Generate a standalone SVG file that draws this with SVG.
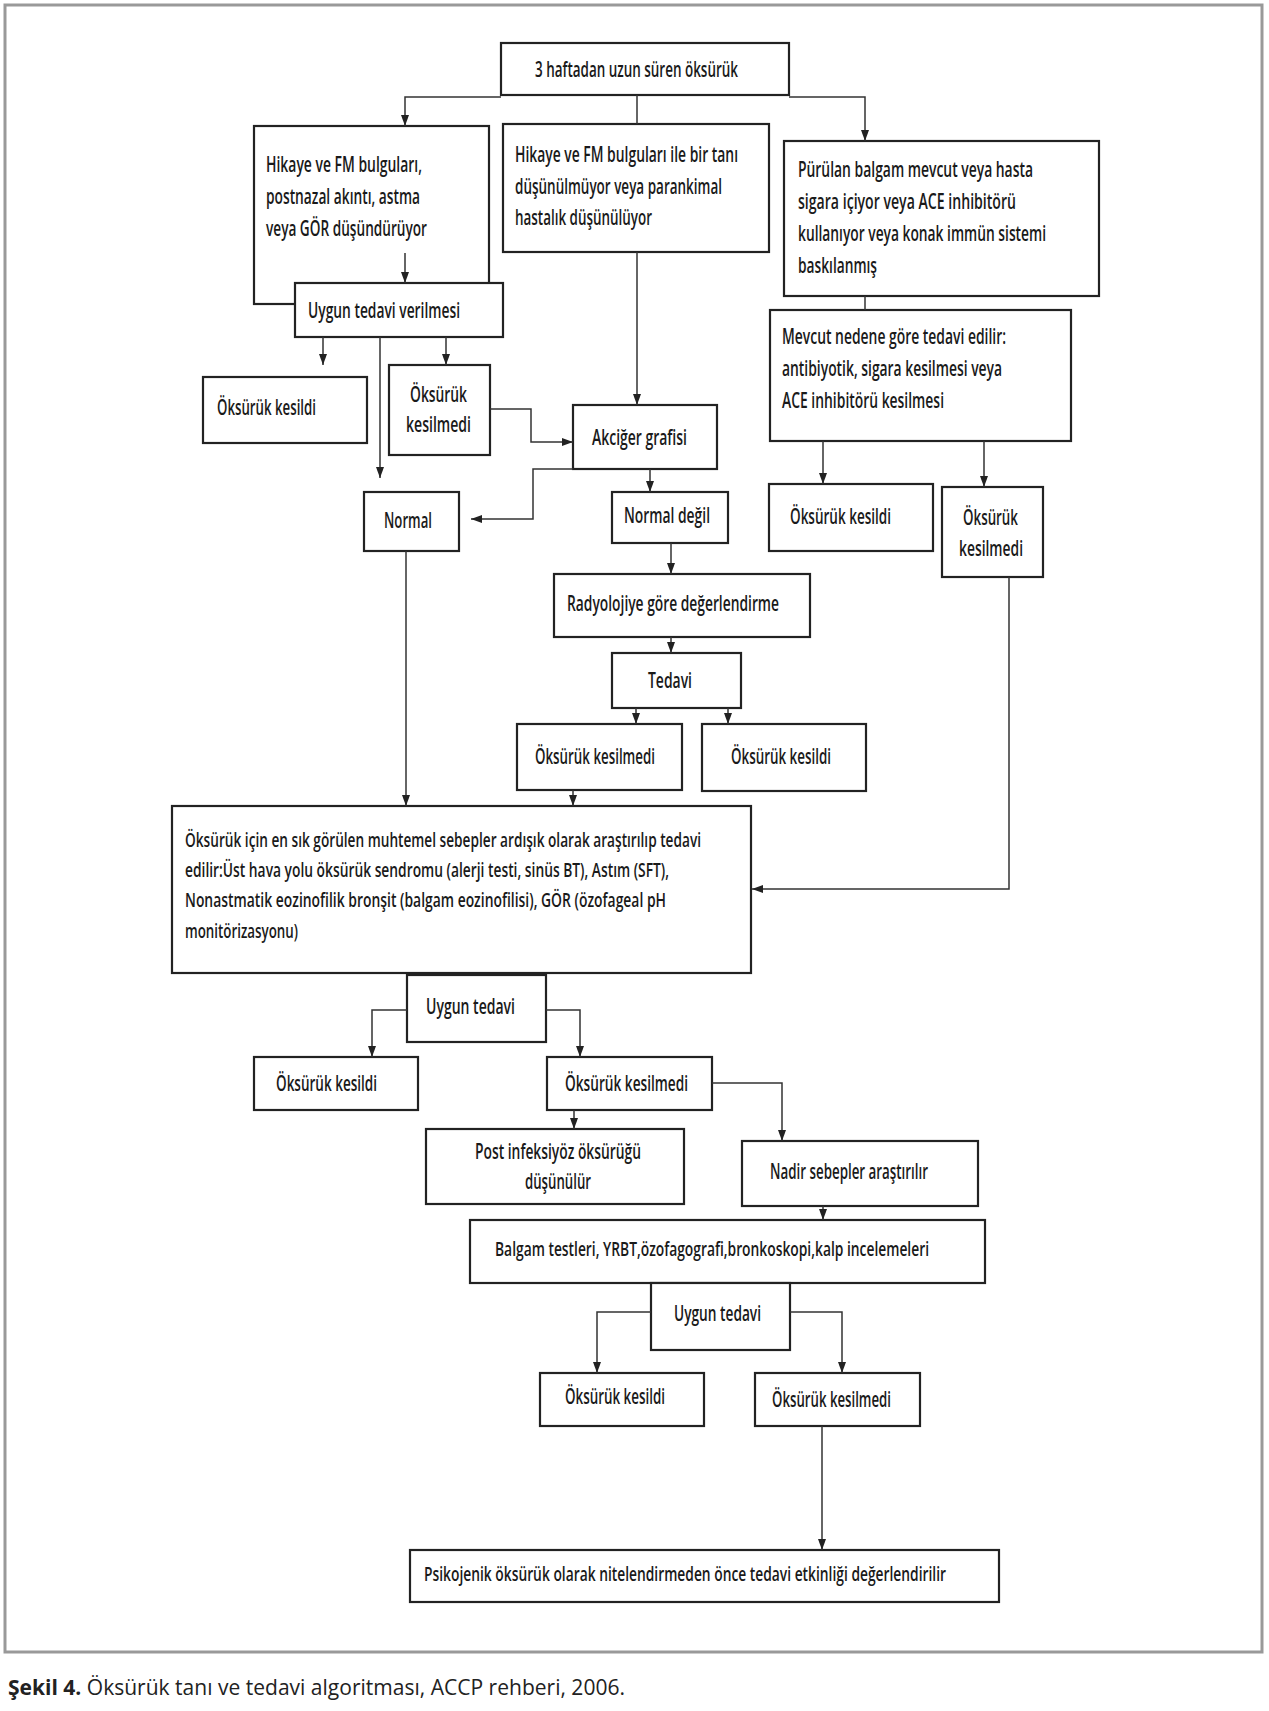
<svg xmlns="http://www.w3.org/2000/svg" width="1269" height="1711" viewBox="0 0 1269 1711">
<defs>
<style>
.box{fill:#fff;stroke:#222;stroke-width:2.2}
.t{font-family:"Open Sans","Liberation Sans",sans-serif;font-size:22px;font-weight:600;fill:#1a1a1a}
.s{font-size:20px}
.c{fill:none;stroke:#333;stroke-width:1.5}
.cap{font-family:"Open Sans","Liberation Sans",sans-serif;font-size:21px;fill:#222}
</style>
<marker id="ah" markerUnits="userSpaceOnUse" markerWidth="8" markerHeight="11" refX="4" refY="11" orient="0" viewBox="0 0 8 11">
<path d="M0,0 L8,0 L4,11 z" fill="#222"/>
</marker>
<marker id="ar" markerUnits="userSpaceOnUse" markerWidth="11" markerHeight="8" refX="11" refY="4" viewBox="0 0 11 8">
<path d="M0,0 L11,4 L0,8 z" fill="#222"/>
</marker>
<marker id="al" markerUnits="userSpaceOnUse" markerWidth="11" markerHeight="8" refX="0" refY="4" viewBox="0 0 11 8">
<path d="M11,0 L0,4 L11,8 z" fill="#222"/>
</marker>
</defs>
<rect x="0" y="0" width="1269" height="1711" fill="#fff"/>
<rect x="5" y="5" width="1257" height="1647" fill="none" stroke="#999" stroke-width="3"/>

<g id="n1"><rect class="box" x="501" y="43" width="288" height="52"/>
<text class="t" x="535" y="77" textLength="203" lengthAdjust="spacingAndGlyphs">3 haftadan uzun süren öksürük</text></g>

<g id="n2"><rect class="box" x="254" y="126" width="235" height="178"/>
<text class="t" x="266" y="172" textLength="156" lengthAdjust="spacingAndGlyphs">Hikaye ve FM bulguları,</text>
<text class="t" x="266" y="204" textLength="154" lengthAdjust="spacingAndGlyphs">postnazal akıntı, astma</text>
<text class="t" x="266" y="236" textLength="161" lengthAdjust="spacingAndGlyphs">veya GÖR düşündürüyor</text></g>

<g id="n3"><rect class="box" x="295" y="283" width="208" height="54"/>
<text class="t" x="308" y="318" textLength="152" lengthAdjust="spacingAndGlyphs">Uygun tedavi verilmesi</text></g>

<g id="n4"><rect class="box" x="203" y="377" width="164" height="66"/>
<text class="t" x="217" y="415" textLength="99" lengthAdjust="spacingAndGlyphs">Öksürük kesildi</text></g>

<g id="n5"><rect class="box" x="389" y="365" width="101" height="90"/>
<text class="t" x="410" y="402" textLength="57" lengthAdjust="spacingAndGlyphs">Öksürük</text>
<text class="t" x="406" y="432" textLength="65" lengthAdjust="spacingAndGlyphs">kesilmedi</text></g>

<g id="n6"><rect class="box" x="503" y="124" width="266" height="128"/>
<text class="t" x="515" y="162" textLength="223" lengthAdjust="spacingAndGlyphs">Hikaye ve FM bulguları ile bir tanı</text>
<text class="t" x="515" y="194" textLength="207" lengthAdjust="spacingAndGlyphs">düşünülmüyor veya parankimal</text>
<text class="t" x="515" y="225" textLength="137" lengthAdjust="spacingAndGlyphs">hastalık düşünülüyor</text></g>

<g id="n7"><rect class="box" x="784" y="141" width="315" height="155"/>
<text class="t" x="798" y="177" textLength="235" lengthAdjust="spacingAndGlyphs">Pürülan balgam mevcut veya hasta</text>
<text class="t" x="798" y="209" textLength="218" lengthAdjust="spacingAndGlyphs">sigara içiyor veya ACE inhibitörü</text>
<text class="t" x="798" y="241" textLength="248" lengthAdjust="spacingAndGlyphs">kullanıyor veya konak immün sistemi</text>
<text class="t" x="798" y="273" textLength="79" lengthAdjust="spacingAndGlyphs">baskılanmış</text></g>

<g id="n8"><rect class="box" x="770" y="310" width="301" height="131"/>
<text class="t" x="782" y="344" textLength="224" lengthAdjust="spacingAndGlyphs">Mevcut nedene göre tedavi edilir:</text>
<text class="t" x="782" y="376" textLength="220" lengthAdjust="spacingAndGlyphs">antibiyotik, sigara kesilmesi veya</text>
<text class="t" x="782" y="408" textLength="162" lengthAdjust="spacingAndGlyphs">ACE inhibitörü kesilmesi</text></g>

<g id="n9"><rect class="box" x="573" y="405" width="144" height="64"/>
<text class="t" x="592" y="445" textLength="95" lengthAdjust="spacingAndGlyphs">Akciğer grafisi</text></g>

<g id="n10"><rect class="box" x="364" y="492" width="95" height="59"/>
<text class="t" x="384" y="528" textLength="48" lengthAdjust="spacingAndGlyphs">Normal</text></g>

<g id="n11"><rect class="box" x="612" y="492" width="116" height="51"/>
<text class="t" x="624" y="523" textLength="86" lengthAdjust="spacingAndGlyphs">Normal değil</text></g>

<g id="n12"><rect class="box" x="554" y="574" width="256" height="63"/>
<text class="t" x="567" y="611" textLength="212" lengthAdjust="spacingAndGlyphs">Radyolojiye göre değerlendirme</text></g>

<g id="n13"><rect class="box" x="612" y="653" width="129" height="55"/>
<text class="t" x="648" y="688" textLength="44" lengthAdjust="spacingAndGlyphs">Tedavi</text></g>

<g id="n14"><rect class="box" x="517" y="724" width="165" height="66"/>
<text class="t" x="535" y="764" textLength="120" lengthAdjust="spacingAndGlyphs">Öksürük kesilmedi</text></g>

<g id="n15"><rect class="box" x="702" y="724" width="164" height="67"/>
<text class="t" x="731" y="764" textLength="100" lengthAdjust="spacingAndGlyphs">Öksürük kesildi</text></g>

<g id="n16"><rect class="box" x="769" y="484" width="164" height="67"/>
<text class="t" x="790" y="524" textLength="101" lengthAdjust="spacingAndGlyphs">Öksürük kesildi</text></g>

<g id="n17"><rect class="box" x="942" y="487" width="101" height="90"/>
<text class="t" x="963" y="525" textLength="55" lengthAdjust="spacingAndGlyphs">Öksürük</text>
<text class="t" x="959" y="556" textLength="64" lengthAdjust="spacingAndGlyphs">kesilmedi</text></g>

<g id="n18"><rect class="box" x="172" y="806" width="579" height="167"/>
<text class="t s" x="185" y="847" textLength="516" lengthAdjust="spacingAndGlyphs">Öksürük için en sık görülen muhtemel sebepler ardışık olarak araştırılıp tedavi</text>
<text class="t s" x="185" y="877" textLength="484" lengthAdjust="spacingAndGlyphs">edilir:Üst hava yolu öksürük sendromu (alerji testi, sinüs BT), Astım (SFT),</text>
<text class="t s" x="185" y="907" textLength="481" lengthAdjust="spacingAndGlyphs">Nonastmatik eozinofilik bronşit (balgam eozinofilisi), GÖR (özofageal pH</text>
<text class="t s" x="185" y="938" textLength="113" lengthAdjust="spacingAndGlyphs">monitörizasyonu)</text></g>

<g id="n19"><rect class="box" x="407" y="975" width="139" height="67"/>
<text class="t" x="426" y="1014" textLength="89" lengthAdjust="spacingAndGlyphs">Uygun tedavi</text></g>

<g id="n20"><rect class="box" x="254" y="1057" width="164" height="53"/>
<text class="t" x="276" y="1091" textLength="101" lengthAdjust="spacingAndGlyphs">Öksürük kesildi</text></g>

<g id="n21"><rect class="box" x="547" y="1057" width="165" height="53"/>
<text class="t" x="565" y="1091" textLength="123" lengthAdjust="spacingAndGlyphs">Öksürük kesilmedi</text></g>

<g id="n22"><rect class="box" x="426" y="1129" width="258" height="75"/>
<text class="t" x="475" y="1159" textLength="166" lengthAdjust="spacingAndGlyphs">Post infeksiyöz öksürüğü</text>
<text class="t" x="525" y="1189" textLength="66" lengthAdjust="spacingAndGlyphs">düşünülür</text></g>

<g id="n23"><rect class="box" x="742" y="1141" width="236" height="65"/>
<text class="t" x="770" y="1179" textLength="158" lengthAdjust="spacingAndGlyphs">Nadir sebepler araştırılır</text></g>

<g id="n24"><rect class="box" x="470" y="1220" width="515" height="63"/>
<text class="t s" x="495" y="1256" textLength="434" lengthAdjust="spacingAndGlyphs">Balgam testleri, YRBT,özofagografi,bronkoskopi,kalp incelemeleri</text></g>

<g id="n25"><rect class="box" x="651" y="1283" width="139" height="67"/>
<text class="t" x="674" y="1321" textLength="87" lengthAdjust="spacingAndGlyphs">Uygun tedavi</text></g>

<g id="n26"><rect class="box" x="540" y="1373" width="164" height="53"/>
<text class="t" x="565" y="1404" textLength="100" lengthAdjust="spacingAndGlyphs">Öksürük kesildi</text></g>

<g id="n27"><rect class="box" x="755" y="1373" width="165" height="53"/>
<text class="t" x="772" y="1407" textLength="119" lengthAdjust="spacingAndGlyphs">Öksürük kesilmedi</text></g>

<g id="n28"><rect class="box" x="410" y="1550" width="589" height="52"/>
<text class="t s" x="424" y="1581" textLength="522" lengthAdjust="spacingAndGlyphs">Psikojenik öksürük olarak nitelendirmeden önce tedavi etkinliği değerlendirilir</text></g>

<g id="connectors">
<path class="c" d="M501,97 H405 V126" marker-end="url(#ah)"/>
<path class="c" d="M789,97 H865 V141" marker-end="url(#ah)"/>
<path class="c" d="M637,95 V124"/>
<path class="c" d="M405,253 V283" marker-end="url(#ah)"/>
<path class="c" d="M323,337 V365" marker-end="url(#ah)"/>
<path class="c" d="M446,337 V365" marker-end="url(#ah)"/>
<path class="c" d="M380,337 V478" marker-end="url(#ah)"/>
<path class="c" d="M490,409 H531 V442 H573" marker-end="url(#ar)"/>
<path class="c" d="M637,252 V405" marker-end="url(#ah)"/>
<path class="c" d="M573,469 H533 V519 H471" marker-end="url(#al)"/>
<path class="c" d="M650,469 V492" marker-end="url(#ah)"/>
<path class="c" d="M406,551 V806" marker-end="url(#ah)"/>
<path class="c" d="M671,543 V574" marker-end="url(#ah)"/>
<path class="c" d="M671,637 V653" marker-end="url(#ah)"/>
<path class="c" d="M636,708 V724" marker-end="url(#ah)"/>
<path class="c" d="M728,708 V724" marker-end="url(#ah)"/>
<path class="c" d="M573,790 V806" marker-end="url(#ah)"/>
<path class="c" d="M865,296 V310"/>
<path class="c" d="M823,441 V484" marker-end="url(#ah)"/>
<path class="c" d="M984,441 V487" marker-end="url(#ah)"/>
<path class="c" d="M1009,577 V889 H752" marker-end="url(#al)"/>
<path class="c" d="M407,1010 H372 V1057" marker-end="url(#ah)"/>
<path class="c" d="M546,1010 H580 V1057" marker-end="url(#ah)"/>
<path class="c" d="M574,1110 V1129" marker-end="url(#ah)"/>
<path class="c" d="M712,1083 H782 V1141" marker-end="url(#ah)"/>
<path class="c" d="M823,1206 V1220" marker-end="url(#ah)"/>
<path class="c" d="M651,1312 H597 V1373" marker-end="url(#ah)"/>
<path class="c" d="M790,1312 H842 V1373" marker-end="url(#ah)"/>
<path class="c" d="M822,1426 V1550" marker-end="url(#ah)"/>
</g>

<text class="cap" x="8" y="1695" textLength="617" lengthAdjust="spacingAndGlyphs"><tspan font-weight="bold">Şekil 4.</tspan> Öksürük tanı ve tedavi algoritması, ACCP rehberi, 2006.</text>
</svg>
